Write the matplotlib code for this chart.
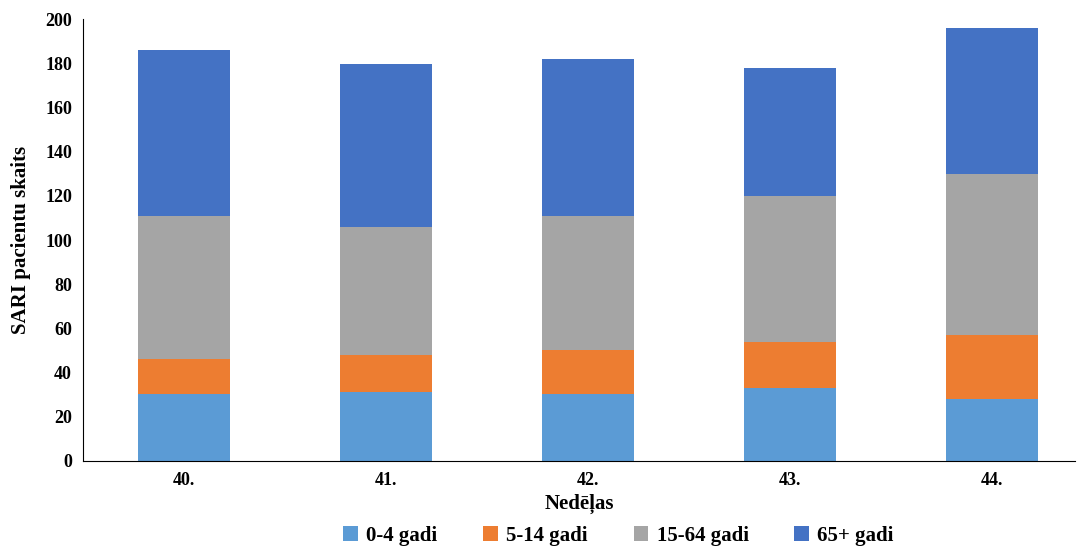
import matplotlib
matplotlib.use("Agg")
import matplotlib.pyplot as plt
import numpy as np

weeks = ["40.", "41.", "42.", "43.", "44."]
s0_4 = [30, 31, 30, 33, 28]
s5_14 = [16, 17, 20, 21, 29]
s15_64 = [65, 58, 61, 66, 73]
s65 = [75, 74, 71, 58, 66]
labels = ["0-4 gadi", "5-14 gadi", "15-64 gadi", "65+ gadi"]
colors = ["#5B9BD5", "#ED7D31", "#A5A5A5", "#4472C4"]

plt.rcParams['font.family'] = ['Liberation Serif']
plt.rcParams['font.weight'] = 'bold'
fig = plt.figure(figsize=(10.78, 5.55), dpi=100)
ax = fig.add_axes([0.077, 0.17, 0.92, 0.795])
x = np.arange(len(weeks))
bottom = np.zeros(len(weeks))
for vals, lab, c in zip([s0_4, s5_14, s15_64, s65], labels, colors):
    ax.bar(x, vals, 0.455, bottom=bottom, color=c, label=lab)
    bottom += np.array(vals)
ax.set_xlim(-0.5, 4.41)
ax.set_ylim(0, 200)
ax.set_yticks(range(0, 201, 20))
ax.set_xticks(x)
ax.set_xticklabels(weeks)
ax.tick_params(labelsize=13, length=0, pad=8)
for s in ["top", "right"]:
    ax.spines[s].set_visible(False)
ax.spines["left"].set_color("black")
ax.spines["bottom"].set_color("black")
ax.set_ylabel("SARI pacientu skaits", fontsize=15, fontweight='bold', labelpad=10)
ax.set_xlabel("Nedēļas", fontsize=15, fontweight='bold', labelpad=4)
ax.legend(loc="upper center", bbox_to_anchor=(0.54, -0.105), ncol=4, frameon=False,
          fontsize=15, handlelength=0.7, handleheight=0.7, columnspacing=2.2, handletextpad=0.4)
fig.savefig("out.png", dpi=100)
